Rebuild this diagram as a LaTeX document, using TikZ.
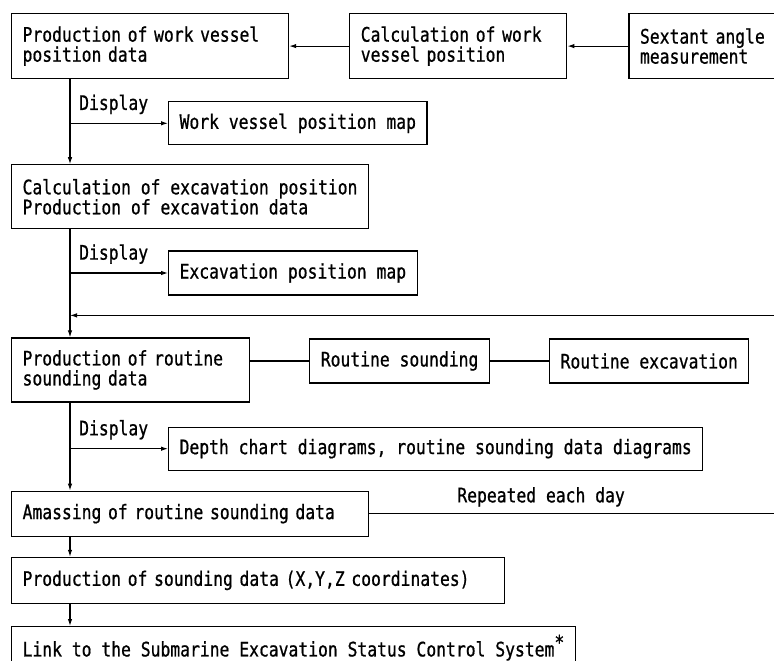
\documentclass[tikz,border=0pt]{standalone}
\usepackage{fontspec}
\newfontfamily\typewfont[FakeStretch=0.818,FakeBold=0.8]{DejaVu Sans Mono}
\usetikzlibrary{positioning,arrows.meta}

\begin{document}
\begin{tikzpicture}[x=1pt, y=-1pt, >={Latex[length=7pt,width=4.5pt]}, font=\typewfont\fontsize{20}{20}\selectfont]
  % Styles
  \tikzstyle{box}=[rectangle, draw, line width=1.2pt, inner xsep=11pt, inner ysep=0pt, align=left]
  \tikzstyle{lbl}=[inner sep=0pt]
  \tikzstyle{conn}=[line width=1.1pt]

  % Frame
  \useasboundingbox (0,0) rectangle (774,661);
  \clip (0,0) rectangle (774,661);
  \coordinate (redge) at (774,0);

  % Work vessel position
  \node[box, anchor=north west, text width=255pt, minimum height=65pt] (pvd) at (11,13) {Production of work vessel\\position data};
  \node[box, right=60pt of pvd, text width=195pt, minimum height=65pt] (cvp) {Calculation of work\\vessel position};
  \node[box, right=61pt of cvp, text width=170pt, minimum height=65pt] (sam) {Sextant angle\\measurement};
  \node[box, below right=22pt and 157pt of pvd.south west, minimum height=43pt] (wvm) {Work vessel position map};
  % Excavation position
  \node[box, below right=85pt and 0pt of pvd.south west, minimum height=64pt] (cep) {Calculation of excavation position\\Production of excavation data};
  \node[box, below right=21pt and 157pt of cep.south west, minimum height=44pt] (epm) {Excavation position map};
  % Routine sounding
  \node[box, below right=108pt and 0pt of cep.south west, text width=216pt, minimum height=64pt] (prs) {Production of routine\\sounding data};
  \node[box, below right=1pt and 59pt of prs.north east, minimum height=44pt] (rs) {Routine sounding};
  \node[box, right=59pt of rs, minimum height=44pt] (re) {Routine excavation};
  \node[box, below right=24pt and 157pt of prs.south west, minimum height=43pt] (dcd) {Depth chart diagrams, routine sounding data diagrams};
  % Sounding data
  \node[box, below right=88pt and 0pt of prs.south west, text width=335pt, minimum height=45pt] (ars) {Amassing of routine sounding data};
  \node[box, below right=20pt and 0pt of ars.south west, text width=471pt, minimum height=46pt] (psd) {Production of sounding data (X,Y,Z coordinates)};
  \node[box, below right=22pt and 0pt of psd.south west, minimum height=42pt] (scs) {Link to the Submarine Excavation Status Control System\raisebox{7pt}{*}};

  % Trunk and branch points
  \coordinate (trunk) at ([xshift=59pt]pvd.south west);
  \coordinate (b1) at (trunk |- wvm.west);
  \coordinate (b2) at (trunk |- epm.west);
  \coordinate (b3) at (trunk |- dcd.west);
  \coordinate[yshift=22pt] (rtop) at (prs.north -| redge);
  \coordinate (rend) at (ars.east -| redge);

  % Labels
  \node[lbl, above right=9pt and 9pt of b1] (disp1) {Display};
  \node[lbl, above right=9pt and 9pt of b2] (disp2) {Display};
  \node[lbl, above right=9pt and 9pt of b3] (disp3) {Display};
  \node[lbl, above left=7pt and 149pt of rend] (rep) {Repeated each day};

  % Arrows
  \draw[conn, ->] (cvp) -- (pvd);
  \draw[conn, ->] (sam) -- (cvp);
  \draw[conn, ->] (pvd.south -| trunk) -- (cep.north -| trunk);
  \draw[conn, ->] (b1) -- (wvm.west);
  \draw[conn, ->] (cep.south -| trunk) -- (prs.north -| trunk);
  \draw[conn, ->] (b2) -- (epm.west);
  \draw[conn, ->] (rtop) -- (rtop -| trunk);
  \draw[conn] (prs.east |- rs.west) -- (rs.west);
  \draw[conn] (rs) -- (re);
  \draw[conn, ->] (b3) -- (dcd.west);
  \draw[conn, ->] (prs.south -| trunk) -- (ars.north -| trunk);
  \draw[conn] (ars.east) -- (rend);
  \draw[conn, ->] (ars.south -| trunk) -- (psd.north -| trunk);
  \draw[conn, ->] (psd.south -| trunk) -- (scs.north -| trunk);
\end{tikzpicture}
\end{document}
